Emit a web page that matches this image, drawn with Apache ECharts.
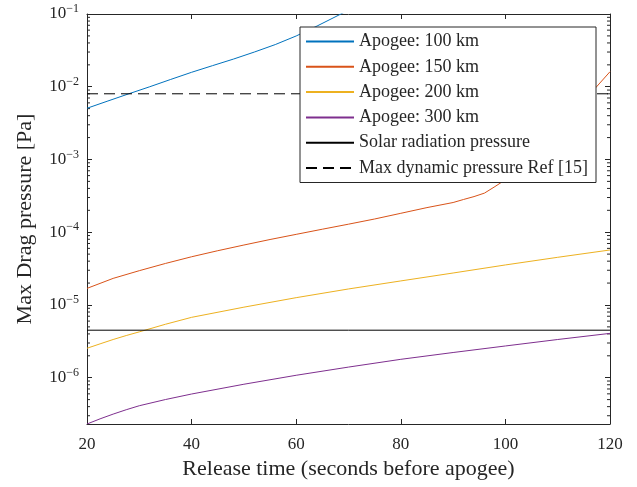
<!DOCTYPE html>
<html>
<head>
<meta charset="utf-8">
<script src="https://cdn.jsdelivr.net/npm/echarts@6/dist/echarts.min.js"></script>
<style>html,body{margin:0;padding:0;background:#fff;}#c{width:637px;height:487px;}</style>
</head>
<body>
<div id="c"></div>
<script>
// ---- data ----
const xApogee100 = [20, 24, 28, 32, 36, 40, 44, 48, 52, 56, 60, 64, 68, 70];
const apogee100 = [5.06e-3, 6.37e-3, 8.0e-3, 1.0e-2, 1.26e-2, 1.58e-2, 1.95e-2, 2.40e-2, 3.0e-2, 3.8e-2, 4.99e-2, 6.84e-2, 9.55e-2, 1.135e-1];

const xApogee150 = [20, 25, 30, 35, 40, 45, 50, 55, 60, 65, 70, 75, 80, 85, 90, 92, 94, 96, 98, 100, 102, 104, 106, 108, 112, 116, 120];
const apogee150 = [1.69e-5, 2.32e-5, 2.96e-5, 3.72e-5, 4.60e-5, 5.57e-5, 6.67e-5, 7.94e-5, 9.35e-5, 1.10e-4, 1.29e-4, 1.52e-4, 1.82e-4, 2.18e-4, 2.56e-4, 2.82e-4, 3.09e-4, 3.45e-4, 4.24e-4, 5.27e-4, 6.64e-4, 9.55e-4, 1.36e-3, 1.93e-3, 3.85e-3, 7.67e-3, 1.61e-2];

const xApogee200 = [20, 22.5, 25, 27.5, 30, 35, 40, 50, 60, 70, 80, 90, 100, 110, 120];
const apogee200 = [2.54e-6, 2.92e-6, 3.35e-6, 3.80e-6, 4.27e-6, 5.43e-6, 6.76e-6, 9.33e-6, 1.26e-5, 1.66e-5, 2.14e-5, 2.75e-5, 3.55e-5, 4.52e-5, 5.70e-5];

const xApogee300 = [20, 22.5, 25, 27.5, 30, 35, 40, 50, 60, 70, 80, 90, 100, 110, 120];
const apogee300 = [2.31e-7, 2.72e-7, 3.16e-7, 3.63e-7, 4.12e-7, 5.01e-7, 5.97e-7, 8.13e-7, 1.08e-6, 1.40e-6, 1.79e-6, 2.22e-6, 2.73e-6, 3.35e-6, 4.07e-6];

const xRange = [20, 120];
const solarPressure = [4.5e-6, 4.5e-6];
const maxDynamicPressure = [8.0e-3, 8.0e-3];

const seriesNames = ['Apogee: 100 km', 'Apogee: 150 km', 'Apogee: 200 km', 'Apogee: 300 km', 'Solar radiation pressure', 'Max dynamic pressure Ref [15]'];
const xTicks = [20, 40, 60, 80, 100, 120];
const yMin = 2.31e-7, yMax = 0.1;
const minorMultipliers = [2, 3, 4, 5, 6, 7, 8, 9];
const minorDecades = [-7, -6, -5, -4, -3, -2];

// ---- build ----
const zip = (xs, ys) => xs.map((x, i) => [x, ys[i]]);
const minorTicks = [];
minorDecades.forEach(e => minorMultipliers.forEach(m => {
  const v = m * Math.pow(10, e);
  if (v > yMin && v < yMax) minorTicks.push([xRange[0], v]);
}));

const FONT = 'Liberation Serif';
const INK = '#262626';

function lineSeries(name, data, color, type) {
  return {
    name, type: 'line', data, showSymbol: false, symbol: 'none',
    smooth: false, silent: true, clip: true,
    lineStyle: { color, width: 1, type: type || 'solid' },
    itemStyle: { color }, animation: false, z: 3
  };
}

const chart = echarts.init(document.getElementById('c'), null, { renderer: 'canvas' });

const yAxisBase = {
  type: 'log', logBase: 10, min: yMin, max: yMax,
  axisLine: { show: true, lineStyle: { color: INK, width: 1 } },
  axisTick: { show: true, inside: true, length: 5, lineStyle: { color: INK } },
  splitLine: { show: false }, minorTick: { show: false }
};
const xAxisBase = {
  type: 'value', min: xRange[0], max: xRange[1], interval: 20,
  axisLine: { show: true, lineStyle: { color: INK, width: 1 } },
  axisTick: { show: true, inside: true, length: 5, lineStyle: { color: INK } },
  splitLine: { show: false }
};

chart.setOption({
  animation: false,
  backgroundColor: '#fff',
  grid: { left: 87, right: 27, top: 14, bottom: 63, containLabel: false, outerBoundsMode: 'none' },
  xAxis: [
    Object.assign({}, xAxisBase, {
      position: 'bottom',
      name: 'Release time (seconds before apogee)', nameLocation: 'middle', nameGap: 32,
      nameTextStyle: { fontFamily: FONT, fontSize: 22, color: INK },
      axisLabel: { margin: 12, fontFamily: FONT, fontSize: 17, color: INK,
        formatter: v => xTicks.includes(v) ? String(v) : '' }
    }),
    Object.assign({}, xAxisBase, { position: 'top', axisLabel: { show: false } })
  ],
  yAxis: [
    Object.assign({}, yAxisBase, {
      position: 'left',
      name: 'Max Drag pressure [Pa]', nameLocation: 'middle', nameGap: 51,
      nameTextStyle: { fontFamily: FONT, fontSize: 22, color: INK },
      axisLabel: {
        margin: 8, showMinLabel: false,
        formatter: v => '{b|10}{s|\u2212' + Math.abs(Math.round(Math.log10(v))) + '}',
        rich: {
          b: { fontFamily: FONT, fontSize: 17, color: INK, lineHeight: 22 },
          s: { fontFamily: FONT, fontSize: 12, color: INK, lineHeight: 11, verticalAlign: 'top' }
        }
      }
    }),
    Object.assign({}, yAxisBase, { position: 'right', axisLabel: { show: false } })
  ],
  legend: {
    data: seriesNames, orient: 'vertical', left: 300, top: 27,
    padding: [5.5, 5, 5.5, 5], itemWidth: 48, itemHeight: 14, itemGap: 7.3,
    backgroundColor: '#fff', borderColor: INK, borderWidth: 1, borderRadius: 0,
    selectedMode: false,
    itemStyle: { opacity: 0 },
    textStyle: { fontFamily: FONT, fontSize: 18, color: INK, width: 232, lineHeight: 14 }
  },
  series: [
    lineSeries(seriesNames[0], zip(xApogee100, apogee100), '#0072BD'),
    lineSeries(seriesNames[1], zip(xApogee150, apogee150), '#D95319'),
    lineSeries(seriesNames[2], zip(xApogee200, apogee200), '#EDB120'),
    lineSeries(seriesNames[3], zip(xApogee300, apogee300), '#7E2F8E'),
    lineSeries(seriesNames[4], zip(xRange, solarPressure), '#000'),
    lineSeries(seriesNames[5], zip(xRange, maxDynamicPressure), '#000', [11, 6]),
    {
      name: 'minorTicks', type: 'custom', silent: true, z: 1,
      data: minorTicks, encode: { x: 0, y: 1 },
      renderItem: (params, api) => {
        const v = api.value(1);
        const pL = api.coord([xRange[0], v]);
        const pR = api.coord([xRange[1], v]);
        const st = { stroke: INK, lineWidth: 1 };
        return { type: 'group', children: [
          { type: 'line', shape: { x1: pL[0], y1: pL[1], x2: pL[0] + 3, y2: pL[1] }, style: st },
          { type: 'line', shape: { x1: pR[0] - 3, y1: pR[1], x2: pR[0], y2: pR[1] }, style: st }
        ] };
      }
    }
  ]
});
</script>
</body>
</html>
